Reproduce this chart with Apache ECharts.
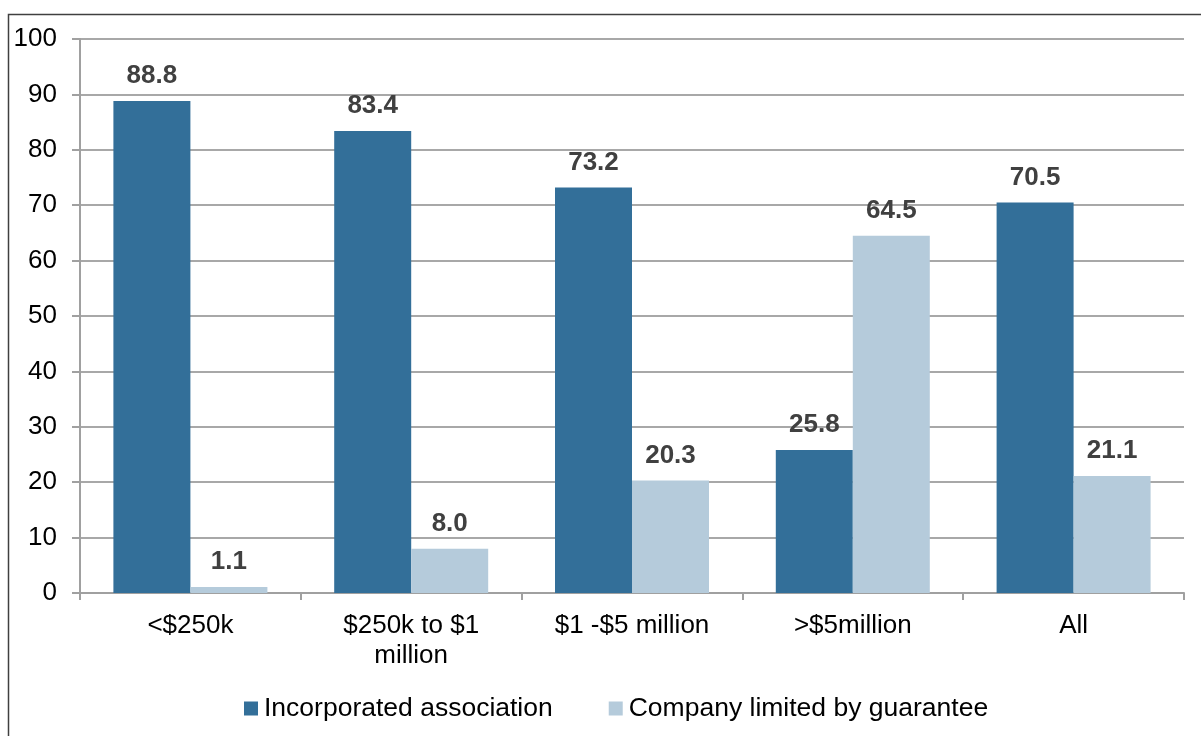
<!DOCTYPE html>
<html>
<head>
<meta charset="utf-8">
<script src="https://cdn.jsdelivr.net/npm/echarts@6/dist/echarts.min.js"></script>
<style>
  html, body { margin: 0; padding: 0; background: #fff; }
  #chart { width: 1201px; height: 736px; }
</style>
</head>
<body>
<div id="chart"></div>
<script>
// Revenue bands and legal structure shares (%)
const categories = ['<$250k', '$250k to $1\nmillion', '$1 -$5 million', '>$5million', 'All'];
const incorporated = [88.8, 83.4, 73.2, 25.8, 70.5];
const companyLtd = [1.1, 8.0, 20.3, 64.5, 21.1];
const seriesNames = ['Incorporated association', 'Company limited by guarantee'];

const font = 'Liberation Sans, Arial, sans-serif';
const labelStyle = {
  show: true,
  position: 'top',
  distance: 12,
  color: '#404040',
  fontFamily: font,
  fontSize: 26,
  fontWeight: 'bold',
  formatter: p => p.value.toFixed(1)
};

const chart = echarts.init(document.getElementById('chart'));
chart.setOption({
  animation: false,
  graphic: [{
    type: 'rect',
    shape: { x: 8.5, y: 14.5, width: 1300, height: 800 },
    style: { fill: 'none', stroke: '#404040', lineWidth: 1.5 },
    silent: true, z: -1
  }],
  grid: { left: 80, right: 17, top: 39, bottom: 143, containLabel: false },
  legend: {
    top: 690,
    left: 239,
    itemWidth: 14, itemHeight: 14, itemGap: 56,
    icon: 'rect',
    textStyle: { fontFamily: font, fontSize: 26.5, color: '#000', padding: [0, 0, 0, 1] },
    data: seriesNames
  },
  xAxis: {
    type: 'category',
    data: categories,
    axisLine: { lineStyle: { color: '#a0a0a0', width: 2 } },
    axisTick: { show: true, length: 7, lineStyle: { color: '#a0a0a0', width: 2 } },
    axisLabel: { fontFamily: font, fontSize: 26, color: '#000', margin: 18, lineHeight: 30 }
  },
  yAxis: {
    type: 'value',
    min: 0, max: 100, interval: 10,
    axisLine: { show: true, lineStyle: { color: '#a0a0a0', width: 2 } },
    axisTick: { show: true, length: 8, lineStyle: { color: '#a0a0a0', width: 2 } },
    splitLine: { lineStyle: { color: '#a8a8a8', width: 2 } },
    axisLabel: { fontFamily: font, fontSize: 26, color: '#000', margin: 23 }
  },
  series: [
    {
      name: seriesNames[0], type: 'bar', data: incorporated,
      barWidth: 77, barGap: '0%',
      itemStyle: { color: '#336f99' },
      label: labelStyle
    },
    {
      name: seriesNames[1], type: 'bar', data: companyLtd,
      barWidth: 77, barGap: '0%',
      itemStyle: { color: '#b5cbdb' },
      label: labelStyle
    }
  ]
});
</script>
</body>
</html>
